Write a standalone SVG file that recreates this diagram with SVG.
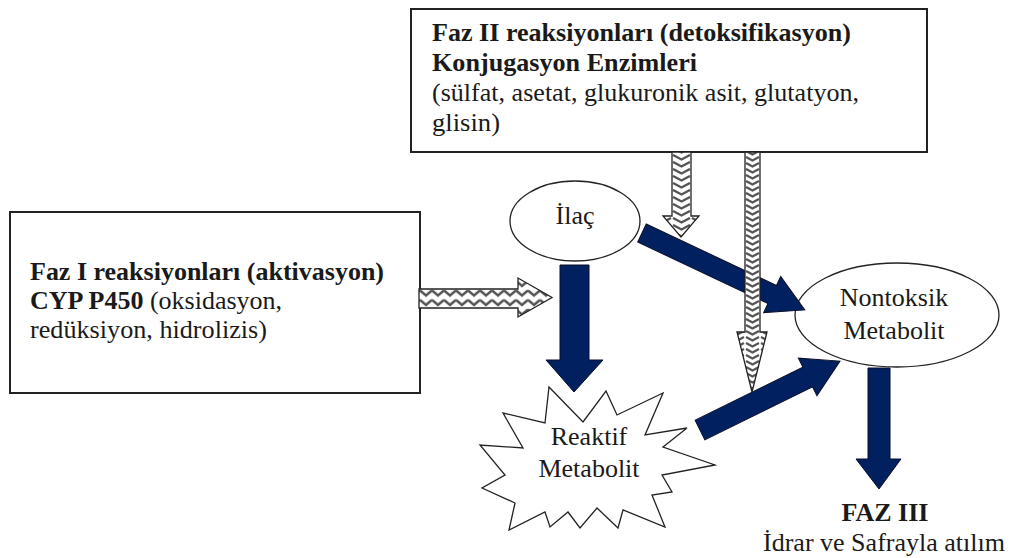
<svg xmlns="http://www.w3.org/2000/svg" width="1010" height="558" viewBox="0 0 1010 558" font-family="Liberation Serif, Times New Roman, serif">
<style>
text{font-family:'Liberation Serif','Times New Roman','DejaVu Serif',serif;font-size:26px;fill:#1a1a1a}
.b{font-weight:bold}
.box{fill:#fff;stroke:#222;stroke-width:2}
.node{fill:#fff;stroke:#222;stroke-width:1.3}
.navy{fill:#002060;stroke:#0a0f2a;stroke-width:1}
.hatch{stroke:#222;stroke-width:1.3}
</style>
<defs>
<pattern id="zzh" patternUnits="userSpaceOnUse" x="0" y="289" width="12" height="9.5">
<rect width="12" height="9.5" fill="#fff"/>
<path d="M0,1.5 L6,6.5 L12,1.5" fill="none" stroke="#555" stroke-width="2.6"/>
</pattern>
<pattern id="zzv1" patternUnits="userSpaceOnUse" x="672" y="0" width="19" height="7">
<rect width="19" height="7" fill="#fff"/>
<path d="M1,1 L9.5,5.5 L18,1" fill="none" stroke="#555" stroke-width="2.4"/>
</pattern>
<pattern id="zzv2" patternUnits="userSpaceOnUse" x="745" y="0" width="15" height="6">
<rect width="15" height="6" fill="#fff"/>
<path d="M1,1 L7.5,4.5 L14,1" fill="none" stroke="#555" stroke-width="2.2"/>
</pattern>
</defs>

<g id="faz2-box">
<rect class="box" x="411" y="9" width="516" height="143"/>
<text class="b" x="432" y="41" font-family="Liberation Serif" textLength="419" lengthAdjust="spacingAndGlyphs">Faz II reaksiyonları (detoksifikasyon)</text>
<text class="b" x="432" y="71" font-family="Liberation Serif" textLength="265" lengthAdjust="spacingAndGlyphs">Konjugasyon Enzimleri</text>
<text x="432" y="101" font-family="Liberation Serif" textLength="427" lengthAdjust="spacingAndGlyphs">(sülfat, asetat, glukuronik asit, glutatyon,</text>
<text x="432" y="131" font-family="Liberation Serif" textLength="68" lengthAdjust="spacingAndGlyphs">glisin)</text>
</g>

<g id="faz1-box">
<rect class="box" x="10" y="212" width="410" height="181"/>
<text class="b" x="30" y="280" font-family="Liberation Serif" textLength="354" lengthAdjust="spacingAndGlyphs">Faz I reaksiyonları (aktivasyon)</text>
<text x="30" y="309" font-family="Liberation Serif"><tspan class="b">CYP P450</tspan> (oksidasyon,</text>
<text x="30" y="338" font-family="Liberation Serif" textLength="237" lengthAdjust="spacingAndGlyphs">redüksiyon, hidrolizis)</text>
</g>

<g id="ilac">
<ellipse class="node" cx="575" cy="221" rx="65" ry="40"/>
<text x="575" y="224" font-family="Liberation Serif" text-anchor="middle">İlaç</text>
</g>

<g id="nontoksik">
<ellipse class="node" cx="897" cy="315" rx="102" ry="52"/>
<text x="894" y="306" font-family="Liberation Serif" text-anchor="middle">Nontoksik</text>
<text x="894" y="339" font-family="Liberation Serif" text-anchor="middle">Metabolit</text>
</g>

<g id="reaktif">
<polygon class="node" points="549,387 583,422 606,391 617,415 663,393 645,435 687,428 663,447 715,465 662,475 672,492 652,495 665,527 623,510 618,528 597,508 580,528 568,512 550,527 545,512 509,530 515,503 482,488 505,475 480,445 523,448 503,413 545,423"/>
<text x="589" y="445" font-family="Liberation Serif" text-anchor="middle">Reaktif</text>
<text x="589" y="477" font-family="Liberation Serif" text-anchor="middle">Metabolit</text>
</g>

<g id="faz3">
<text class="b" x="885" y="521" font-family="Liberation Serif" text-anchor="middle">FAZ III</text>
<text x="884" y="551" font-family="Liberation Serif" text-anchor="middle" textLength="242" lengthAdjust="spacingAndGlyphs">İdrar ve Safrayla atılım</text>
</g>

<g id="connectors">
<polygon class="navy" points="560,265 589,265 589,360 603,360 574,392 546,360 560,360"/>
<polygon class="navy" transform="translate(642,233) rotate(25.3)" points="0,-10 144,-10 144,-20 180,0 144,20 144,10 0,10"/>
<polygon class="navy" transform="translate(700,430) rotate(-26.2)" points="0,-11 120,-11 120,-21 156,0 120,21 120,11 0,11"/>
<polygon class="navy" points="868,368 890,368 890,459 901,459 879,489 856,459 868,459"/>
<polygon class="hatch" fill="url(#zzh)" points="419,289 518,289 518,278 552,297.5 518,317 518,308 419,308"/>
<polygon class="hatch" fill="url(#zzv1)" points="672,152 691,152 691,216 699,216 681,237 663,216 672,216"/>
<polygon class="hatch" fill="url(#zzv2)" points="745,152 760,152 760,332 767,332 752,392 737,332 745,332"/>
</g>
</svg>
